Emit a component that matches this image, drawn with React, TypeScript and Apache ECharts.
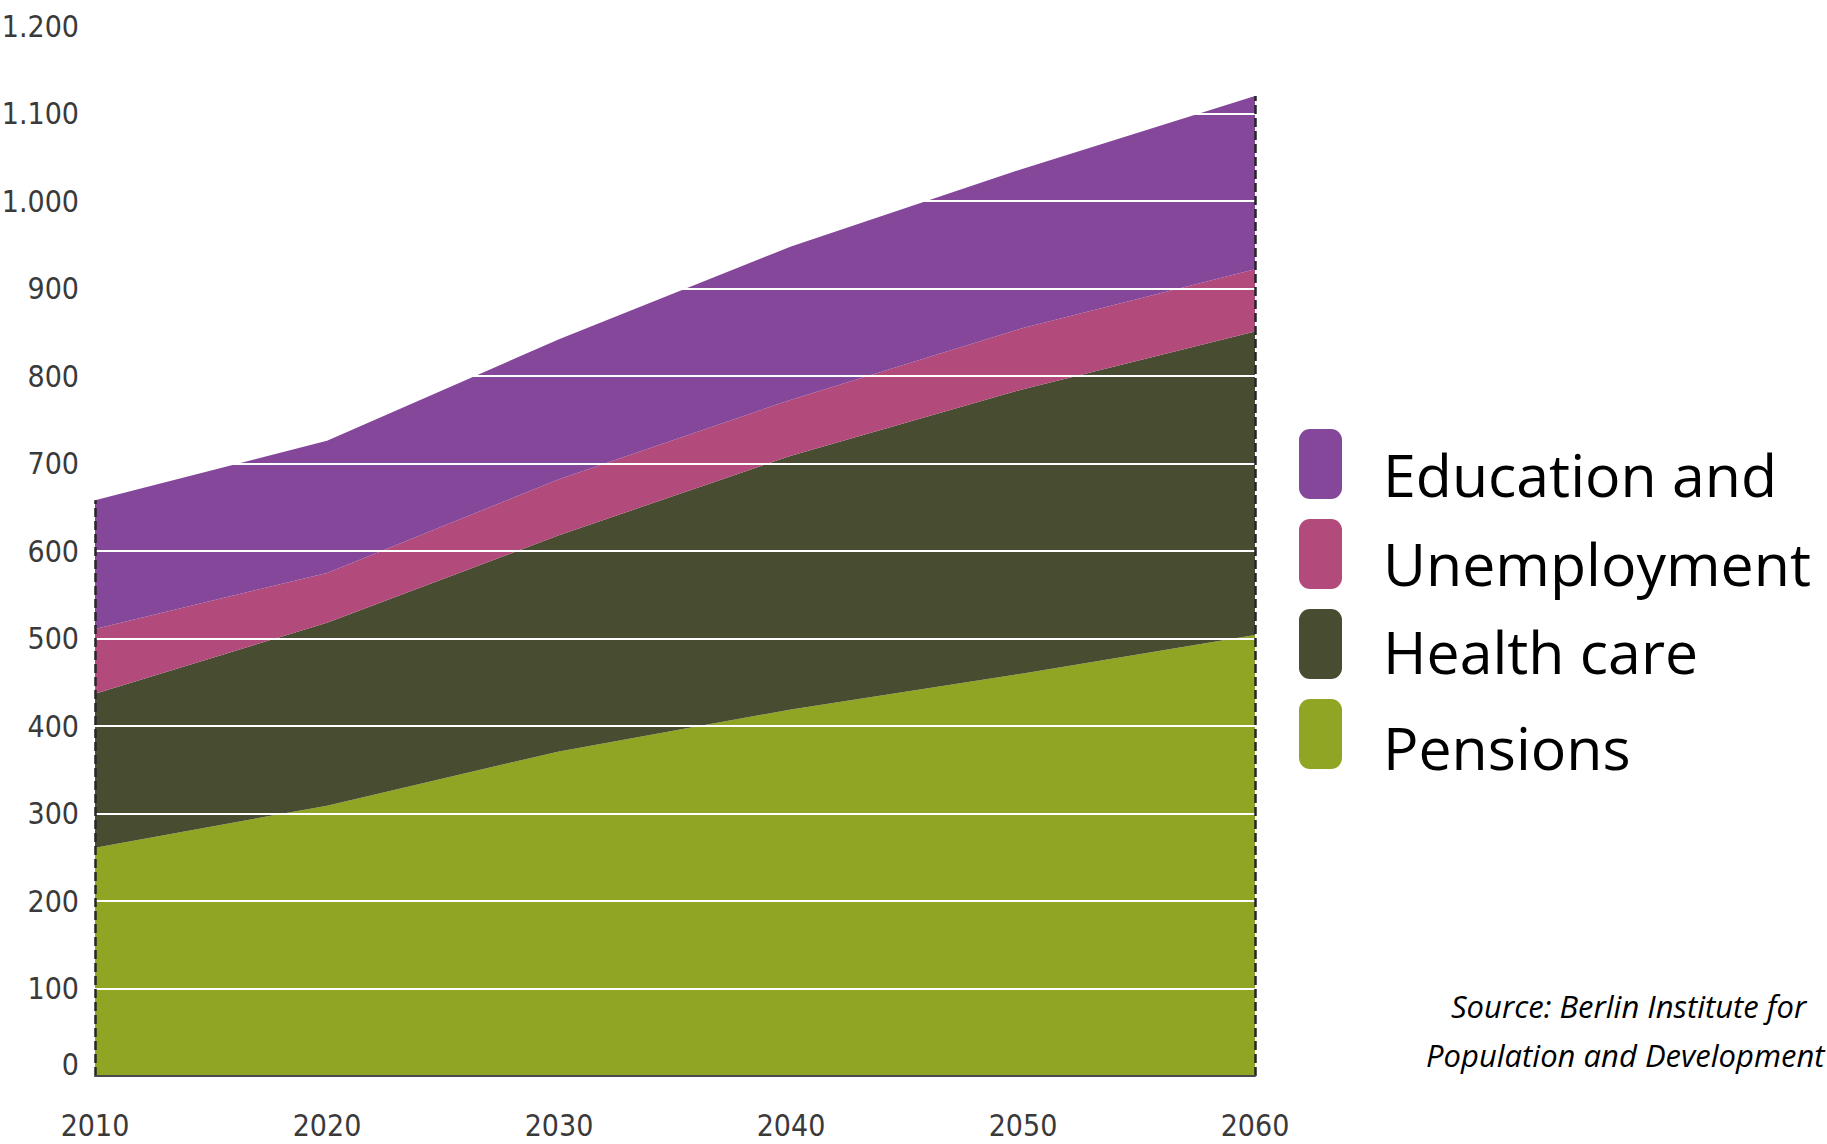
import React, { useEffect, useRef } from "react";
import * as echarts from "echarts";

const years = ["2010", "2020", "2030", "2040", "2050", "2060"];
const pensions = [261, 309, 371, 419, 460, 504];
const healthCare = [176, 209, 247, 290, 325, 347];
const unemployment = [74, 57, 64, 64, 70, 71];
const education = [147, 151, 160, 175, 182, 198];
const yTickLabels = ["0", "100", "200", "300", "400", "500", "600", "700", "800", "900", "1.000", "1.100", "1.200"];
const legendLabels = ["Education and", "Unemployment", "Health care", "Pensions"];
const sourceLines = ["Source: Berlin Institute for", "Population and Development"];

const COLORS = {
  education: "#84479a",
  unemployment: "#b34a7c",
  health: "#484c30",
  pensions: "#8fa523",
};
const legendColors = [COLORS.education, COLORS.unemployment, COLORS.health, COLORS.pensions];

const AXIS_FONT = '"Liberation Sans Narrow", "DejaVu Sans Condensed", "Liberation Sans", sans-serif';

export default function App() {
  const ref = useRef<HTMLDivElement>(null);

  useEffect(() => {
    if (!ref.current) return;
    const chart = echarts.init(ref.current, undefined, { renderer: "svg" });
    const totals = years.map((_, i) => pensions[i] + healthCare[i] + unemployment[i] + education[i]);
    const last = years.length - 1;

    const area = (name: string, data: number[], color: string) => ({
      type: "line",
      name,
      stack: "total",
      data,
      symbol: "none",
      showSymbol: false,
      lineStyle: { width: 0 },
      areaStyle: { color, opacity: 1 },
      itemStyle: { color },
      z: 2,
      silent: true,
    });

    const legendBaselines = [499, 588, 676, 772];
    const graphics: any[] = [];
    legendLabels.forEach((label, i) => {
      graphics.push({
        type: "rect",
        shape: { x: 1299, y: 429 + i * 90, width: 43, height: 70, r: 11 },
        style: { fill: legendColors[i] },
      });
      graphics.push({
        type: "text",
        x: 1383,
        y: legendBaselines[i] - 25,
        style: {
          text: label,
          font: '59px "Open Sans", sans-serif',
          fill: "#000000",
          verticalAlign: "middle",
          align: "left",
        },
      });
    });
    const sourceX = [1451, 1426];
    const sourceY = [1006, 1055];
    sourceLines.forEach((line, i) => {
      graphics.push({
        type: "text",
        x: sourceX[i],
        y: sourceY[i],
        style: {
          text: line,
          font: 'italic 31px "Open Sans", sans-serif',
          fill: "#000000",
          verticalAlign: "middle",
          align: "left",
        },
      });
    });

    chart.setOption({
      animation: false,
      backgroundColor: "#ffffff",
      grid: {
        left: 95,
        right: 572,
        top: 26,
        bottom: 68,
        containLabel: false,
        outerBoundsMode: "none",
      },
      xAxis: {
        type: "category",
        data: years,
        boundaryGap: false,
        z: 5,
        axisLine: { show: true, lineStyle: { color: "#4a4a4a", width: 2 } },
        axisTick: { show: false },
        splitLine: { show: false },
        axisLabel: {
          margin: 34,
          fontFamily: AXIS_FONT,
          fontSize: 30,
          color: "#3a3a3a",
        },
      },
      yAxis: {
        type: "value",
        min: 0,
        max: 1200,
        interval: 100,
        z: 5,
        axisLine: { show: false },
        axisTick: { show: false },
        splitLine: { show: true, lineStyle: { color: "#ffffff", width: 2 } },
        axisLabel: {
          margin: 16,
          fontFamily: AXIS_FONT,
          fontSize: 30,
          color: "#3a3a3a",
          formatter: (v: number) => {
            const s = yTickLabels[Math.round(v / 100)];
            return v === 0 ? "{z|" + s + "}" : s;
          },
          rich: {
            z: {
              fontFamily: AXIS_FONT,
              fontSize: 30,
              color: "#3a3a3a",
              padding: [0, 0, 24, 0],
            },
          },
        },
      },
      series: [
        area("Pensions", pensions, COLORS.pensions),
        area("Health care", healthCare, COLORS.health),
        area("Unemployment", unemployment, COLORS.unemployment),
        area("Education and", education, COLORS.education),
        {
          type: "line",
          name: "edges",
          data: totals,
          symbol: "none",
          showSymbol: false,
          lineStyle: { width: 0, opacity: 0 },
          silent: true,
          z: 10,
          markLine: {
            silent: true,
            symbol: "none",
            label: { show: false },
            lineStyle: { type: [9, 4], color: "#262626", width: 2.5 },
            data: [
              [{ coord: [years[0], 0] }, { coord: [years[0], totals[0]] }],
              [{ coord: [years[last], 0] }, { coord: [years[last], totals[last]] }],
            ],
          },
        },
      ],
      graphic: graphics,
    });

    return () => chart.dispose();
  }, []);

  return (
    <div
      ref={ref}
      style={{ position: "absolute", left: 0, top: 0, width: 1827, height: 1144, background: "#fff" }}
    />
  );
}
